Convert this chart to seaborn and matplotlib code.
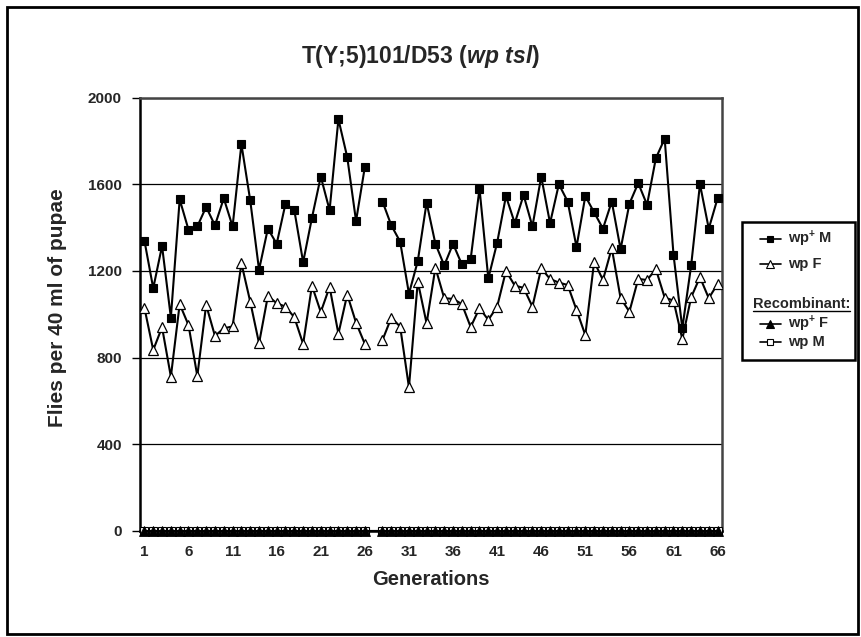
import numpy as np
import pandas as pd
import seaborn as sns
import matplotlib.pyplot as plt
from matplotlib.lines import Line2D
from matplotlib.patches import Rectangle

# data (generation 27 was not scored)
generations = list(range(1, 67))
wp_plus_m = [1340, 1120, 1315, 985, 1530, 1390, 1405, 1495, 1410, 1535,
             1405, 1785, 1525, 1205, 1395, 1325, 1510, 1480, 1240, 1445,
             1635, 1480, 1900, 1725, 1430, 1680, np.nan, 1520, 1410, 1335,
             1095, 1245, 1515, 1325, 1225, 1325, 1230, 1255, 1580, 1165,
             1330, 1545, 1420, 1550, 1405, 1635, 1420, 1600, 1520, 1310,
             1545, 1470, 1395, 1520, 1300, 1510, 1605, 1505, 1720, 1810,
             1275, 935, 1225, 1600, 1395, 1535]
wp_f = [1030, 835, 940, 712, 1047, 950, 715, 1043, 900, 935,
        944, 1235, 1058, 866, 1084, 1051, 1035, 986, 863, 1132,
        1010, 1126, 910, 1091, 961, 863, np.nan, 881, 984, 943,
        663, 1151, 958, 1215, 1074, 1071, 1047, 941, 1028, 974,
        1035, 1200, 1132, 1122, 1035, 1212, 1163, 1146, 1135, 1020,
        904, 1243, 1158, 1305, 1074, 1012, 1163, 1158, 1208, 1077,
        1063, 885, 1078, 1171, 1074, 1140]
# recombinants: none found
rec_wp_plus_f = [0, 0, 0, 0, 0, 0, 0, 0, 0, 0, 0, 0, 0, 0, 0, 0, 0, 0, 0, 0,
                 0, 0, 0, 0, 0, 0, np.nan, 0, 0, 0, 0, 0, 0, 0, 0, 0, 0, 0, 0, 0,
                 0, 0, 0, 0, 0, 0, 0, 0, 0, 0, 0, 0, 0, 0, 0, 0, 0, 0, 0, 0,
                 0, 0, 0, 0, 0, 0]
rec_wp_m = [0, 0, 0, 0, 0, 0, 0, 0, 0, 0, 0, 0, 0, 0, 0, 0, 0, 0, 0, 0,
            0, 0, 0, 0, 0, 0, np.nan, 0, 0, 0, 0, 0, 0, 0, 0, 0, 0, 0, 0, 0,
            0, 0, 0, 0, 0, 0, 0, 0, 0, 0, 0, 0, 0, 0, 0, 0, 0, 0, 0, 0,
            0, 0, 0, 0, 0, 0]
y_ticks = [0, 400, 800, 1200, 1600, 2000]
x_ticks = [1, 6, 11, 16, 21, 26, 31, 36, 41, 46, 51, 56, 61, 66]

df = pd.DataFrame({"gen": generations, "wpM": wp_plus_m, "wpF": wp_f,
                   "recF": rec_wp_plus_f, "recM": rec_wp_m})
df["block"] = np.where(df["gen"] < 27, 0, 1)

sns.set_style("white")
plt.rcParams["font.family"] = ["Liberation Sans", "DejaVu Sans"]
plt.rcParams["font.weight"] = "bold"
plt.rcParams["mathtext.fontset"] = "custom"
plt.rcParams["mathtext.rm"] = "Liberation Sans:bold"
plt.rcParams["mathtext.bf"] = "Liberation Sans:bold"
plt.rcParams["mathtext.it"] = "Liberation Sans:bold:italic"

W, H = 862, 637
fig = plt.figure(figsize=(W / 100, H / 100), dpi=100)
ax = fig.add_axes([140 / W, 1 - 531 / H, 582 / W, 433.5 / H])

# recombinants sit on the zero line (line bridges gen 27, no marker there)
rec = df.dropna(subset=["recM"])
sns.lineplot(data=rec, x="gen", y="recM", estimator=None, sort=False, ax=ax,
             color="black", lw=1.5, marker="s", markersize=5.5, mfc="white",
             mec="black", mew=0.8, clip_on=False, zorder=4)
sns.lineplot(data=rec, x="gen", y="recF", estimator=None, sort=False, ax=ax,
             color="black", lw=1.5, marker="^", markersize=7, mfc="black",
             mec="black", mew=0.6, clip_on=False, zorder=5)

sns.lineplot(data=df.dropna(subset=["wpF"]), x="gen", y="wpF", units="block",
             estimator=None, ax=ax, color="black", lw=1.5, marker="^",
             markersize=6.5, mfc="white", mec="black", mew=0.9, zorder=3)
sns.lineplot(data=df.dropna(subset=["wpM"]), x="gen", y="wpM", units="block",
             estimator=None, ax=ax, color="black", lw=1.5, marker="s",
             markersize=5.5, mfc="black", mec="black", mew=0.8, zorder=3)

ax.set_xlim(0.5, 66.5)
ax.set_ylim(0, 2000)
ax.set_yticks(y_ticks)
ax.set_xticks(x_ticks)
ax.set_yticklabels([str(v) for v in y_ticks], fontsize=11, fontweight="bold")
ax.set_xticklabels([str(v) for v in x_ticks], fontsize=11, fontweight="bold")
ax.tick_params(axis="y", direction="out", length=6, width=1, color="black",
               pad=7, left=True)
ax.tick_params(axis="x", length=0, pad=10)
ax.yaxis.grid(True, color="black", lw=0.9)
ax.set_axisbelow(True)
ax.set_xlabel("")
ax.set_ylabel("")
for side in ["left", "bottom"]:
    ax.spines[side].set_color("black")
    ax.spines[side].set_linewidth(1.8)
for side in ["top", "right"]:
    ax.spines[side].set_color("#444444")
    ax.spines[side].set_linewidth(1.8)


def fx(px):
    return px / W


def fy(py):
    return 1 - py / H


fig.text(fx(421), fy(63.5), r"T(Y;5)101/D53 ($\mathit{wp\ tsl)}$",
         ha="center", va="baseline", fontsize=16.5, fontweight="bold")
fig.text(fx(431), fy(585), "Generations", ha="center", va="baseline",
         fontsize=14.5, fontweight="bold")
fig.text(fx(63.5), fy(308), "Flies per 40 ml of pupae", rotation=90,
         rotation_mode="anchor", ha="center", va="baseline",
         fontsize=15, fontweight="bold")

# legend box drawn by hand (Excel style with a sub heading)
fig.add_artist(Rectangle((fx(742), fy(360)), fx(855) - fx(742),
                         fy(222) - fy(360), transform=fig.transFigure,
                         fill=False, ec="black", lw=1.8))
entries = [
    (r"wp$^{+}$ M", 243, "s", "black", 5),
    ("wp F", 268, "^", "white", 6),
    (r"wp$^{+}$ F", 328, "^", "black", 6),
    ("wp M", 346, "s", "white", 5),
]
for label, base, mk, face, ms in entries:
    fig.add_artist(Line2D([fx(760), fx(781)], [fy(base - 4.5)] * 2,
                          transform=fig.transFigure, color="black", lw=1.2))
    fig.add_artist(Line2D([fx(770.5)], [fy(base - 4.5)], transform=fig.transFigure,
                          marker=mk, markersize=ms, mfc=face, mec="black",
                          mew=0.8, lw=0))
    fig.text(fx(788), fy(base), label, ha="left", va="baseline",
             fontsize=10.5, fontweight="bold")
fig.text(fx(802), fy(308), "Recombinant:", ha="center", va="baseline",
         fontsize=10.5, fontweight="bold")
fig.add_artist(Line2D([fx(753), fx(850)], [fy(311)] * 2,
                      transform=fig.transFigure, color="black", lw=1))

# outer chart border
fig.add_artist(Rectangle((fx(7), fy(634)), fx(858) - fx(7), fy(7) - fy(634),
                         transform=fig.transFigure, fill=False, ec="black",
                         lw=2))

fig.savefig("out.png", dpi=100)
